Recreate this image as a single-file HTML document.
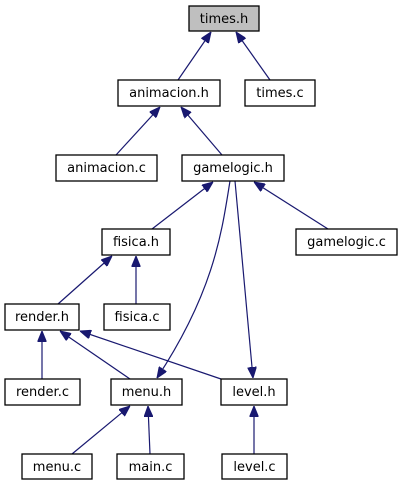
<!DOCTYPE html>
<html><head><meta charset="utf-8"><style>
html,body{margin:0;padding:0;background:#fff;width:403px;height:485px;overflow:hidden}
text{font-family:"DejaVu Sans","Liberation Sans",sans-serif;font-size:13px;fill:#000;text-anchor:middle}
rect{fill:#fff;stroke:#000;stroke-width:1.3}
.e{stroke:#191970;stroke-width:1.2;fill:none}
</style></head><body>
<svg width="403" height="485" xmlns="http://www.w3.org/2000/svg">
<defs><marker id="a" markerWidth="11" markerHeight="9" refX="11" refY="4.5" orient="auto" markerUnits="userSpaceOnUse"><path d="M0,0 L11,4.5 L0,9 z" fill="#191970" stroke="#191970"/></marker></defs>
<g>
<line class="e" x1="178" y1="80" x2="211" y2="32" marker-end="url(#a)"/>
<line class="e" x1="270" y1="80" x2="236" y2="32" marker-end="url(#a)"/>
<line class="e" x1="116" y1="155" x2="160" y2="107" marker-end="url(#a)"/>
<line class="e" x1="222" y1="155" x2="181" y2="107" marker-end="url(#a)"/>
<line class="e" x1="152" y1="229" x2="213" y2="182" marker-end="url(#a)"/>
<line class="e" x1="328" y1="229" x2="254" y2="182" marker-end="url(#a)"/>
<path class="e" d="M230,181 C222,230 215,290 157,378" marker-end="url(#a)"/>
<line class="e" x1="235" y1="181" x2="253" y2="378" marker-end="url(#a)"/>
<line class="e" x1="58" y1="304" x2="112" y2="256" marker-end="url(#a)"/>
<line class="e" x1="136" y1="304" x2="136" y2="256" marker-end="url(#a)"/>
<line class="e" x1="42" y1="379" x2="42" y2="331" marker-end="url(#a)"/>
<line class="e" x1="130" y1="379" x2="60" y2="331" marker-end="url(#a)"/>
<line class="e" x1="221" y1="379" x2="80" y2="331" marker-end="url(#a)"/>
<line class="e" x1="72" y1="454" x2="130" y2="406" marker-end="url(#a)"/>
<line class="e" x1="150" y1="454" x2="148" y2="406" marker-end="url(#a)"/>
<line class="e" x1="254" y1="454" x2="254" y2="406" marker-end="url(#a)"/>
</g>
<rect x="189" y="6" width="70" height="25" style="fill:#bfbfbf"/><text x="224" y="23">times.h</text>
<rect x="118" y="80" width="102" height="26"/><text x="169" y="97">animacion.h</text>
<rect x="245" y="80" width="70" height="26"/><text x="280" y="97">times.c</text>
<rect x="56" y="155" width="101" height="26"/><text x="106.5" y="172">animacion.c</text>
<rect x="182" y="155" width="102" height="26"/><text x="233" y="172">gamelogic.h</text>
<rect x="102" y="229" width="68" height="26"/><text x="136" y="246">fisica.h</text>
<rect x="296" y="229" width="101" height="26"/><text x="346.5" y="246">gamelogic.c</text>
<rect x="5" y="304" width="74" height="26"/><text x="42" y="321">render.h</text>
<rect x="104" y="304" width="66" height="26"/><text x="137" y="321">fisica.c</text>
<rect x="5" y="379" width="75" height="26"/><text x="42.5" y="396">render.c</text>
<rect x="111" y="379" width="71" height="26"/><text x="146.5" y="396">menu.h</text>
<rect x="221" y="379" width="66" height="26"/><text x="254" y="396">level.h</text>
<rect x="22" y="454" width="70" height="25"/><text x="57" y="471">menu.c</text>
<rect x="117" y="454" width="67" height="25"/><text x="150.5" y="471">main.c</text>
<rect x="222" y="454" width="65" height="25"/><text x="254.5" y="471">level.c</text>
</svg>
</body></html>
